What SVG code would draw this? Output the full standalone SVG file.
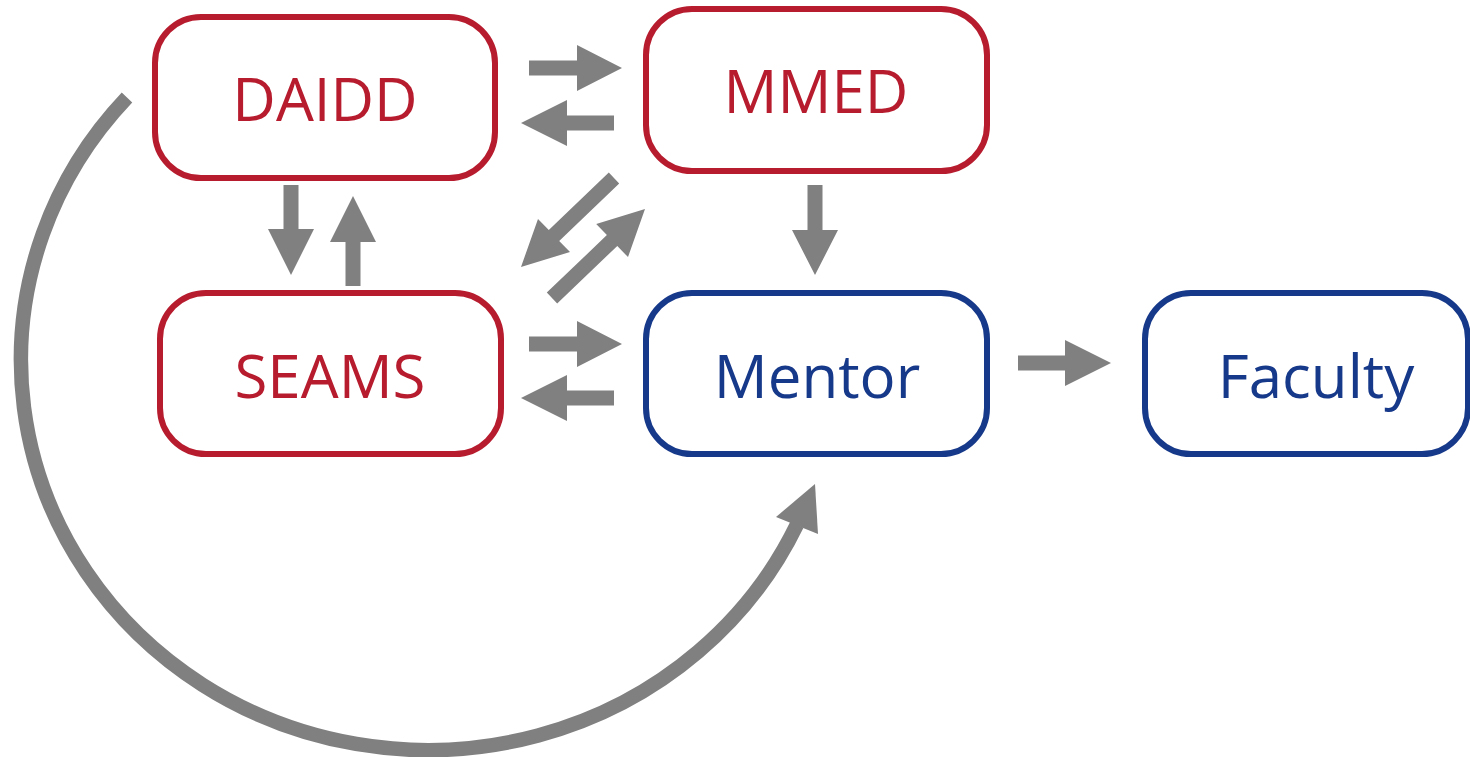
<svg xmlns="http://www.w3.org/2000/svg" width="1470" height="757" viewBox="0 0 1470 757">
<style>
.box{fill:#fff;stroke-width:6}
.red{stroke:#B71C2E}
.blue{stroke:#17398A}
.lbl{font-family:"Open Sans","Noto Sans","Liberation Sans",sans-serif;font-size:60px;text-anchor:middle}
.tr{fill:#B71C2E}
.tb{fill:#17398A}
.arr{fill:#808080;stroke:none}
.curve{fill:none;stroke:#808080;stroke-width:14.5}
</style>
<rect width="1470" height="757" fill="#fff"/>
<g id="connectors">
<polygon class="arr" points="529,60.5 577,60.5 577,45 622,68 577,91 577,75.5 529,75.5"/>
<polygon class="arr" points="614,115.5 567,115.5 567,100 521,123 567,146 567,130.5 614,130.5"/>
<polygon class="arr" points="529,336.5 577,336.5 577,321 622,344 577,367 577,351.5 529,351.5"/>
<polygon class="arr" points="614,390.5 567,390.5 567,375 521,398 567,421 567,405.5 614,405.5"/>
<polygon class="arr" points="1018,355.5 1065,355.5 1065,340 1111,363 1065,386 1065,370.5 1018,370.5"/>
<polygon class="arr" points="283.5,185 298.5,185 298.5,229 314,229 291,275 268,229 283.5,229"/>
<polygon class="arr" points="345.5,286 360.5,286 360.5,242 376,242 353,196 330,242 345.5,242"/>
<polygon class="arr" points="807.5,185 822.5,185 822.5,230 838,230 815,275 792,230 807.5,230"/>
<polygon class="arr" points="608.8,172.6 548.8,230.1 538,219 521,267 570,252 559.2,240.9 619.2,183.4"/>
<polygon class="arr" points="546.8,292.6 606.9,235.1 596.2,223.9 645,209 628,257.1 617.3,245.9 557.2,303.4"/>
<path class="curve" d="M127,97.5 A407,390 0 1 0 797,524.5"/>
<polygon class="arr" points="815,484 776,517 818,534"/>
</g>
<g id="node-daidd">
<rect class="box red" x="155" y="17" width="340" height="161" rx="46"/>
<text class="lbl tr" x="325" y="121">DAIDD</text>
</g>
<g id="node-mmed">
<rect class="box red" x="646" y="9" width="341" height="162" rx="46"/>
<text class="lbl tr" x="816" y="113">MMED</text>
</g>
<g id="node-seams">
<rect class="box red" x="160" y="293" width="341" height="161" rx="46"/>
<text class="lbl tr" x="330" y="398">SEAMS</text>
</g>
<g id="node-mentor">
<rect class="box blue" x="646" y="293" width="341" height="161" rx="46"/>
<text class="lbl tb" x="817" y="398">Mentor</text>
</g>
<g id="node-faculty">
<rect class="box blue" x="1145" y="293" width="323" height="161" rx="46"/>
<text class="lbl tb" x="1316" y="398">Faculty</text>
</g>
</svg>
